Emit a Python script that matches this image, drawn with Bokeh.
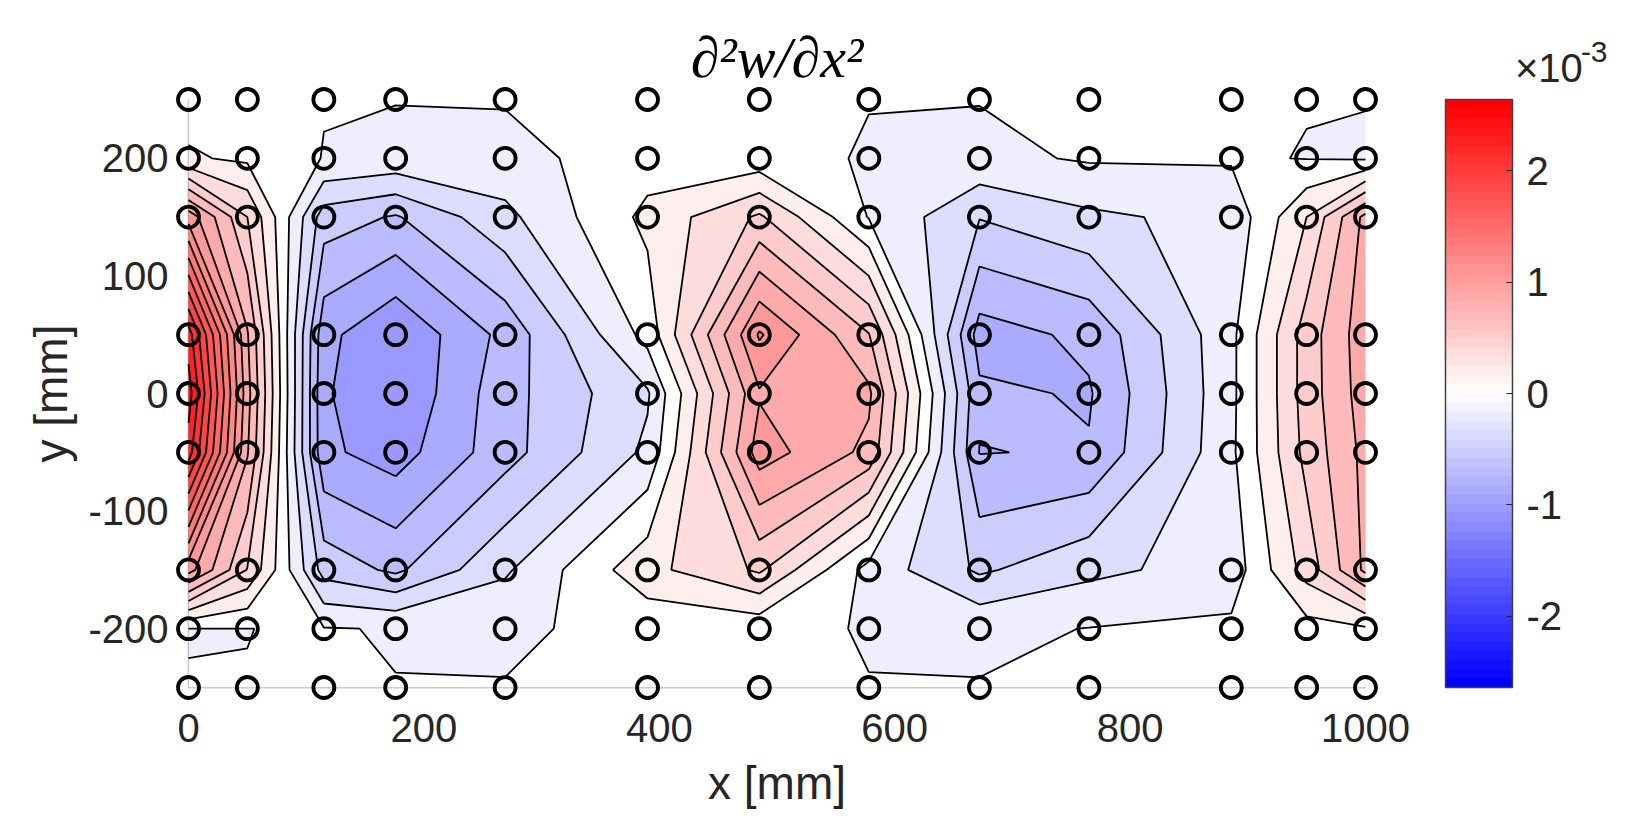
import numpy as np
from bokeh.embed import file_html
from bokeh.models import ColorBar, FixedTicker, Label, LinearColorMapper, PrintfTickFormatter
from bokeh.plotting import figure
from bokeh.resources import INLINE

# measurement grid [mm]
x_mm = [0, 50, 115, 176, 269, 390, 485, 578, 672, 765, 886, 950, 1000]
y_mm = [-250, -200, -150, -50, 0, 50, 150, 200, 250]

# d2w/dx2, in contour steps (one step = 0.176e-3)
z_m250 = [-0.48, -0.49, -0.3, -0.483, -0.47, -0.2, -0.2, -0.475, -0.46, -0.3, -0.2, 0.05, 0.1]
z_m200 = [-0.52, -0.505, -0.45, -0.55, -0.64, -0.23, -0.2, -0.57, -0.69, -0.477, -0.3, 0.13, 0.37]
z_m150 = [5.9, 2.45, -2.9, -3.7, -1.65, 1.19, 2.65, -0.86, -2.66, -1.75, -1.07, 1.9, 4.72]
z_m50 = [13, 4.6, -5.3, -5.96, -3.9, -1.29, 6.0, 4.24, -4.53, -4.42, -0.7, 2.82, 4.8]
z_0 = [14, 4.9, -5.37, -6.45, -3.88, -1.62, 5.4, 4.7, -4.3, -4.6, -0.75, 2.97, 5.0]
z_p50 = [13, 4.6, -5.2, -6.4, -4.2, -0.15, 6.62, 3.55, -4.95, -4.27, -0.75, 2.97, 5.1]
z_p150 = [6.1, 2.5, -3, -3.6, -1.77, 0.76, 2.66, -0.55, -2.45, -1.69, -1.2, 1.5, 4.8]
z_p200 = [0.62, 0.32, -0.537, -0.77, -0.84, 0.05, -0.15, -0.58, -0.74, -0.4, -0.395, -0.53, -0.62]
z_p250 = [0.09, 0.1, -0.455, -0.47, -0.43, -0.1, 0.1, -0.473, -0.47, -0.25, -0.2, -0.47, -0.47]

x_ticks = [0, 200, 400, 600, 800, 1000]
y_ticks = [-200, -100, 0, 100, 200]
cbar_ticks = [-2, -1, 0, 1, 2]

step = 0.176
n_bands = 15
clim = 2.64

z = np.array([z_m250, z_m200, z_m150, z_m50, z_0, z_p50, z_p150, z_p200, z_p250]) * step


def bwr(f):
    # f from -1 (blue) to 1 (red)
    r = 255 if f >= 0 else round(255 * (1 + f))
    b = 255 if f <= 0 else round(255 * (1 - f))
    g = round(255 * (1 - abs(f)))
    return "#%02x%02x%02x" % (r, g, b)


levels = [(n - 0.5) * step for n in range(-n_bands, n_bands + 2)]
band_colors = [bwr(n / n_bands) for n in range(-n_bands, n_bands + 1)]
palette = [bwr(-1 + 2 * i / 63) for i in range(64)]

text_col = "#262626"
sx = 1.1767
pad = 20 / sx

p = figure(
    frame_width=1217, frame_height=628,
    x_range=(-pad, 1000 + pad), y_range=(-250 - pad, 250 + pad),
    min_border_left=168, min_border_right=260,
    min_border_top=79, min_border_bottom=119,
    toolbar_location=None, output_backend="svg",
    title="∂²w/∂x²",
)
p.title.align = "center"
p.title.text_font = "Liberation Serif"
p.title.text_font_style = "italic"
p.title.text_font_size = "58px"
p.title.text_color = "black"
p.title.standoff = -21

p.outline_line_color = None
p.xgrid.visible = False
p.ygrid.visible = False

# axis lines stop at the grid edges, the frame is a bit bigger so the rings are not cut
p.line([x_mm[0], x_mm[0]], [y_mm[0], y_mm[-1]], line_color="#999999", line_width=1.5)
p.line([x_mm[0], x_mm[-1]], [y_mm[0], y_mm[0]], line_color="#999999", line_width=1.5)

p.contour(x_mm, y_mm, z, levels, fill_color=band_colors, line_color="black", line_width=1.8)

gx, gy = np.meshgrid(x_mm, y_mm)
p.scatter(gx.ravel(), gy.ravel(), marker="circle", size=21, fill_color=None,
          line_color="black", line_width=3.8)

p.xaxis.ticker = FixedTicker(ticks=x_ticks)
p.yaxis.ticker = FixedTicker(ticks=y_ticks)
p.xaxis.axis_label = "x [mm]"
p.yaxis.axis_label = "y [mm]"
for ax in [p.xaxis[0], p.yaxis[0]]:
    ax.axis_line_color = None
    ax.major_tick_line_color = None
    ax.minor_tick_line_color = None
    ax.major_tick_in = 0
    ax.major_tick_out = 0
    ax.formatter = PrintfTickFormatter(format="%d")
    ax.major_label_text_font = "Liberation Sans"
    ax.major_label_text_font_size = "40px"
    ax.major_label_text_color = text_col
    ax.axis_label_text_font = "Liberation Sans"
    ax.axis_label_text_font_size = "46px"
    ax.axis_label_text_font_style = "normal"
    ax.axis_label_text_color = text_col
p.xaxis.major_label_standoff = 6
p.yaxis.major_label_standoff = 0
p.xaxis.axis_label_standoff = 12
p.yaxis.axis_label_standoff = 8

mapper = LinearColorMapper(palette=palette, low=-clim, high=clim)
cbar = ColorBar(
    color_mapper=mapper, ticker=FixedTicker(ticks=cbar_ticks),
    formatter=PrintfTickFormatter(format="%d"),
    width=67, height=588, location=(60, 20), margin=0, padding=0,
    bar_line_color="#404040", bar_line_width=1.5, border_line_color=None,
    major_tick_in=6, major_tick_out=0, major_tick_line_color=text_col,
    minor_tick_line_color=None, major_label_text_font="Liberation Sans",
    major_label_text_font_size="40px", major_label_text_color=text_col,
    label_standoff=14, background_fill_color=None,
)
p.add_layout(cbar, "right")

# scale factor of the colorbar, in a side panel so it is not cut at the frame
p.add_layout(Label(x=1127, y=277, text="×10", text_font="Liberation Sans",
                   text_baseline="alphabetic", text_font_size="40px",
                   text_color=text_col), "right")
p.add_layout(Label(x=1183, y=290, text="-3", text_font="Liberation Sans",
                   text_baseline="alphabetic", text_font_size="30px",
                   text_color=text_col), "right")

open("out.html", "w").write(file_html(p, INLINE))
